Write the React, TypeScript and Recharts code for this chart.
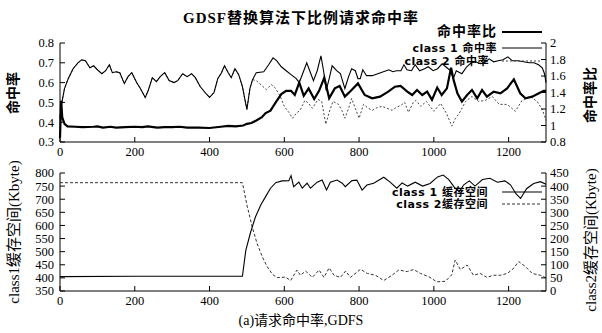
import React from 'react'
import { LineChart, Line, XAxis, YAxis } from 'recharts'

// top panel: hit rates (left axis) and hit-rate ratio (right axis)
const hitX = [0, 5, 12, 22, 35, 48, 58, 68, 80, 90, 100, 112, 122, 132, 140, 150, 160, 172, 182, 192, 205, 215, 228, 236, 247, 258, 268, 280, 292, 305, 315, 328, 340, 352, 362, 375, 388, 400, 412, 422, 432, 440, 450, 458, 468, 478, 488, 494, 500, 508, 515]
const hitShared = [0.42, 0.5, 0.57, 0.62, 0.67, 0.7, 0.715, 0.71, 0.675, 0.685, 0.665, 0.645, 0.66, 0.69, 0.65, 0.655, 0.65, 0.595, 0.63, 0.65, 0.6, 0.57, 0.525, 0.56, 0.625, 0.605, 0.63, 0.65, 0.61, 0.6, 0.61, 0.645, 0.63, 0.645, 0.625, 0.58, 0.55, 0.525, 0.55, 0.62, 0.65, 0.685, 0.65, 0.625, 0.67, 0.64, 0.58, 0.52, 0.465, 0.57, 0.615]

const c1HitX = [525, 545, 558, 570, 580, 592, 605, 618, 632, 640, 650, 660, 670, 678, 688, 698, 705, 712, 720, 728, 740, 750, 762, 772, 780, 790, 797, 803, 810, 820, 835, 850, 865, 880, 890, 900, 912, 920, 928, 940, 950, 962, 975, 985, 998, 1010, 1022, 1035, 1045, 1052, 1060, 1075, 1088, 1100, 1112, 1125, 1135, 1148, 1160, 1172, 1185, 1198, 1210, 1225, 1240, 1255, 1268, 1280, 1290, 1296, 1300]
const c1Hit = [0.65, 0.655, 0.69, 0.725, 0.71, 0.68, 0.66, 0.64, 0.62, 0.6, 0.65, 0.7, 0.65, 0.61, 0.66, 0.735, 0.66, 0.56, 0.62, 0.685, 0.66, 0.645, 0.57, 0.63, 0.67, 0.66, 0.62, 0.62, 0.665, 0.635, 0.635, 0.645, 0.655, 0.665, 0.655, 0.66, 0.66, 0.69, 0.665, 0.66, 0.69, 0.66, 0.67, 0.68, 0.66, 0.67, 0.695, 0.675, 0.66, 0.62, 0.66, 0.645, 0.68, 0.7, 0.705, 0.695, 0.7, 0.72, 0.705, 0.71, 0.715, 0.73, 0.71, 0.71, 0.705, 0.7, 0.7, 0.69, 0.675, 0.645, 0.6]

const c2HitX = [525, 540, 552, 565, 575, 588, 600, 612, 622, 632, 642, 655, 665, 675, 690, 700, 711, 720, 730, 745, 755, 762, 772, 780, 790, 800, 812, 825, 835, 850, 862, 875, 888, 900, 912, 922, 932, 945, 952, 965, 980, 990, 1000, 1018, 1035, 1048, 1058, 1068, 1085, 1102, 1120, 1138, 1156, 1175, 1196, 1218, 1236, 1258, 1276, 1290, 1300]
const c2Hit = [0.61, 0.585, 0.565, 0.59, 0.575, 0.535, 0.48, 0.45, 0.42, 0.445, 0.46, 0.51, 0.495, 0.47, 0.515, 0.505, 0.39, 0.45, 0.505, 0.49, 0.455, 0.42, 0.47, 0.52, 0.47, 0.42, 0.49, 0.47, 0.46, 0.475, 0.48, 0.47, 0.46, 0.475, 0.485, 0.5, 0.45, 0.5, 0.51, 0.48, 0.505, 0.48, 0.455, 0.495, 0.44, 0.38, 0.42, 0.445, 0.505, 0.53, 0.505, 0.51, 0.53, 0.49, 0.49, 0.455, 0.51, 0.53, 0.505, 0.465, 0.41]

const ratioX = [0, 3, 6, 12, 20, 40, 60, 90, 100, 115, 135, 150, 175, 200, 220, 235, 260, 280, 300, 320, 340, 370, 400, 430, 450, 470, 490, 500, 512, 525, 540, 550, 563, 577, 592, 605, 618, 628, 640, 652, 665, 680, 693, 707, 720, 735, 748, 762, 780, 797, 815, 835, 856, 878, 896, 911, 929, 942, 955, 969, 982, 995, 1009, 1021, 1035, 1046, 1053, 1063, 1075, 1089, 1102, 1116, 1129, 1142, 1160, 1178, 1196, 1214, 1231, 1245, 1263, 1281, 1294, 1300]
const ratio = [0.85, 1.3, 1.1, 1.02, 0.99, 0.985, 0.98, 0.985, 0.99, 0.975, 0.985, 0.975, 0.98, 0.985, 0.98, 0.99, 0.975, 0.98, 0.98, 0.985, 0.975, 0.975, 0.97, 0.985, 0.995, 0.99, 1.0, 1.02, 1.03, 1.06, 1.1, 1.15, 1.18, 1.28, 1.38, 1.42, 1.42, 1.37, 1.52, 1.36, 1.45, 1.32, 1.42, 1.58, 1.33, 1.45, 1.48, 1.35, 1.43, 1.51, 1.37, 1.33, 1.35, 1.41, 1.47, 1.48, 1.41, 1.37, 1.43, 1.37, 1.41, 1.31, 1.46, 1.37, 1.45, 1.7, 1.55, 1.39, 1.29, 1.37, 1.43, 1.33, 1.43, 1.35, 1.41, 1.39, 1.45, 1.56, 1.39, 1.33, 1.35, 1.39, 1.42, 1.42]

// bottom panel: cache space (Kbyte)
const c1SpaceX = [0, 200, 488, 497, 510, 523, 537, 550, 563, 577, 594, 612, 618, 625, 639, 648, 661, 670, 688, 701, 713, 723, 741, 755, 763, 781, 794, 808, 821, 839, 866, 883, 901, 915, 930, 950, 970, 990, 1010, 1025, 1040, 1055, 1068, 1080, 1095, 1110, 1130, 1150, 1170, 1190, 1205, 1220, 1232, 1248, 1267, 1285, 1300]
const c1Space = [405, 406, 406, 505, 575, 633, 678, 710, 742, 763, 770, 771, 790, 748, 765, 742, 761, 742, 765, 773, 735, 765, 773, 761, 748, 771, 773, 735, 754, 761, 784, 765, 742, 762, 750, 765, 750, 760, 785, 792, 775, 745, 728, 755, 770, 750, 775, 780, 765, 770, 755, 720, 703, 740, 760, 767, 757]

const c2SpaceX = [0, 488, 500, 514, 527, 541, 554, 568, 581, 603, 617, 634, 643, 657, 675, 693, 706, 720, 733, 750, 764, 777, 804, 822, 844, 866, 888, 906, 929, 946, 964, 986, 1008, 1031, 1048, 1057, 1071, 1089, 1106, 1124, 1142, 1160, 1178, 1196, 1209, 1227, 1245, 1263, 1285, 1300]
const c2Space = [413, 413, 328, 245, 182, 131, 93, 64, 51, 53, 40, 80, 60, 76, 52, 80, 52, 88, 60, 52, 76, 52, 83, 67, 60, 40, 60, 80, 74, 82, 67, 55, 35, 37, 62, 118, 82, 99, 60, 67, 52, 60, 60, 67, 80, 112, 93, 67, 60, 50]

const xTicks = [0, 200, 400, 600, 800, 1000, 1200]
const hitTicks = [0.3, 0.4, 0.5, 0.6, 0.7, 0.8]
const ratioTicks = [0.8, 1, 1.2, 1.4, 1.6, 1.8, 2]
const c1Ticks = [350, 400, 450, 500, 550, 600, 650, 700, 750, 800]
const c2Ticks = [0, 50, 100, 150, 200, 250, 300, 350, 400, 450]

const pts = (xs: number[], ys: number[]) => xs.map((x, i) => ({ x, y: ys[i] }))

const c1HitData = pts([...hitX, ...c1HitX], [...hitShared, ...c1Hit])
const c2HitData = pts([...hitX, ...c2HitX], [...hitShared, ...c2Hit])
const ratioData = pts(ratioX, ratio)
const c1SpaceData = pts(c1SpaceX, c1Space)
const c2SpaceData = pts(c2SpaceX, c2Space)

const serif = "'Liberation Serif', 'Noto Sans CJK SC', serif"
const tickStyle = { fill: '#000', fontSize: 12.5, fontFamily: serif }
const black = { stroke: '#000' }

const fmt1 = (v: number) => v.toFixed(1)

function VLabel({ x, y, text, size = 14, bold = true }: { x: number; y: number; text: string; size?: number; bold?: boolean }) {
  return (
    <div
      style={{
        position: 'absolute',
        left: x,
        top: y,
        transform: 'translate(-50%, -50%) rotate(-90deg)',
        whiteSpace: 'nowrap',
        fontFamily: serif,
        fontSize: size,
        fontWeight: bold ? 'bold' : 'normal',
        color: '#000',
        lineHeight: 1,
      }}
    >
      {text}
    </div>
  )
}

function Key({ y, text, right, dash, width = 1, color = '#000', size = 11, bold = false }: any) {
  return (
    <>
      <div
        style={{
          position: 'absolute',
          right: 602 - right,
          top: y,
          transform: 'translateY(-50%)',
          whiteSpace: 'nowrap',
          fontFamily: bold ? serif : "'DejaVu Sans', 'Noto Sans CJK SC', sans-serif",
          fontSize: size,
          fontWeight: 'bold',
          letterSpacing: bold ? 1 : 0.5,
          color: '#000',
          lineHeight: 1,
        }}
      >
        {text}
      </div>
      <svg style={{ position: 'absolute', left: 502, top: y - 3 }} width={42} height={6}>
        <line x1={0} x2={40} y1={3} y2={3} stroke={color} strokeWidth={width} strokeDasharray={dash} />
      </svg>
    </>
  )
}

export default function App() {
  return (
    <div style={{ position: 'absolute', left: 0, top: 0, width: 602, height: 333, background: '#fff', overflow: 'hidden' }}>
      <div
        style={{
          position: 'absolute',
          left: 0,
          width: 602,
          top: 11,
          textAlign: 'center',
          fontFamily: serif,
          fontSize: 15,
          fontWeight: 'bold',
          letterSpacing: 1,
          lineHeight: 1,
        }}
      >
        GDSF替换算法下比例请求命中率
      </div>

      <div style={{ position: 'absolute', left: 0, top: 0 }}>
        <LineChart width={602} height={160} margin={{ top: 43, right: 0, bottom: 0, left: 0 }}>
          <XAxis xAxisId="b" dataKey="x" type="number" domain={[0, 1300]} ticks={xTicks} height={18} interval={0}
            tickSize={-5} tickMargin={10} axisLine={black} tickLine={black} tick={tickStyle} />
          <XAxis xAxisId="t" dataKey="x" orientation="top" type="number" domain={[0, 1300]} ticks={xTicks} interval={0}
            height={0} tickSize={-5} axisLine={black} tickLine={black} tick={false} />
          <YAxis yAxisId="l" type="number" domain={[0.3, 0.8]} ticks={hitTicks} width={60} allowDataOverflow interval={0}
            tickSize={-5} tickMargin={11} axisLine={black} tickLine={black} tick={tickStyle} tickFormatter={fmt1} />
          <YAxis yAxisId="r" orientation="right" type="number" domain={[0.8, 2]} ticks={ratioTicks} width={56} allowDataOverflow interval={0}
            tickSize={-5} tickMargin={9} axisLine={black} tickLine={black} tick={tickStyle} />
          <Line xAxisId="b" yAxisId="l" data={c2HitData} dataKey="y" type="linear" dot={false} isAnimationActive={false}
            stroke="#444" strokeWidth={1} strokeDasharray="2 2" />
          <Line xAxisId="b" yAxisId="l" data={c1HitData} dataKey="y" type="linear" dot={false} isAnimationActive={false}
            stroke="#000" strokeWidth={1.1} />
          <Line xAxisId="b" yAxisId="r" data={ratioData} dataKey="y" type="linear" dot={false} isAnimationActive={false}
            stroke="#000" strokeWidth={2.2} />
        </LineChart>
      </div>

      <div style={{ position: 'absolute', left: 0, top: 160 }}>
        <LineChart width={602} height={150} margin={{ top: 13, right: 0, bottom: 0, left: 0 }}>
          <XAxis xAxisId="b" dataKey="x" type="number" domain={[0, 1300]} ticks={xTicks} height={19} interval={0}
            tickSize={-5} tickMargin={10} axisLine={black} tickLine={black} tick={tickStyle} />
          <XAxis xAxisId="t" dataKey="x" orientation="top" type="number" domain={[0, 1300]} ticks={xTicks} interval={0}
            height={0} tickSize={-5} axisLine={black} tickLine={black} tick={false} />
          <YAxis yAxisId="l" type="number" domain={[350, 800]} ticks={c1Ticks} width={60} allowDataOverflow interval={0}
            tickSize={-5} tickMargin={11} axisLine={black} tickLine={black} tick={tickStyle} />
          <YAxis yAxisId="r" orientation="right" type="number" domain={[0, 450]} ticks={c2Ticks} width={56} allowDataOverflow interval={0}
            tickSize={-5} tickMargin={9} axisLine={black} tickLine={black} tick={tickStyle} />
          <Line xAxisId="b" yAxisId="r" data={c2SpaceData} dataKey="y" type="linear" dot={false} isAnimationActive={false}
            stroke="#333" strokeWidth={1} strokeDasharray="3 2" />
          <Line xAxisId="b" yAxisId="l" data={c1SpaceData} dataKey="y" type="linear" dot={false} isAnimationActive={false}
            stroke="#000" strokeWidth={1.1} />
        </LineChart>
      </div>

      <Key y={32} text="命中率比" right={497} width={2} size={14} bold />
      <Key y={48} text="class 1 命中率" right={497} width={1} />
      <Key y={61} text="class 2 命中率" right={489} width={1} dash="2 2" color="#444" />
      <Key y={192} text="class 1 缓存空间" right={488} width={1.2} />
      <Key y={204} text="class 2缓存空间" right={488} width={1} dash="3 2" color="#333" />

      <VLabel x={14} y={93} text="命中率" />
      <VLabel x={591} y={95} text="命中率比" />
      <VLabel x={14} y={232} text="class1缓存空间(Kbyte)" size={15} bold={false} />
      <VLabel x={591} y={240} text="class2缓存空间(Kbyte)" size={15} bold={false} />

      <div
        style={{
          position: 'absolute',
          left: 0,
          width: 602,
          top: 314,
          textAlign: 'center',
          fontFamily: serif,
          fontSize: 14,
          lineHeight: 1,
        }}
      >
        (a)请求命中率,GDFS
      </div>
    </div>
  )
}
